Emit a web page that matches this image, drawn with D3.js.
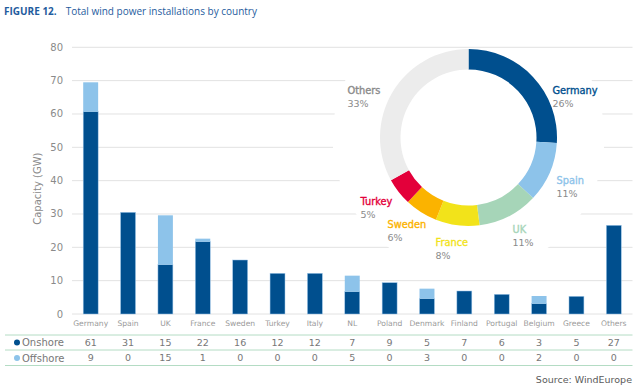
<!DOCTYPE html>
<html>
<head>
<meta charset="utf-8">
<script src="https://cdn.jsdelivr.net/npm/d3@7"></script>
<style>
  body { margin: 0; background: #fff; }
  svg { display: block; }
</style>
</head>
<body>
<svg id="chart" width="644" height="389"></svg>
<script>
// bar chart data (GW)
const countries = ['Germany', 'Spain', 'UK', 'France', 'Sweden', 'Turkey', 'Italy', 'NL',
  'Poland', 'Denmark', 'Finland', 'Portugal', 'Belgium', 'Greece', 'Others'];
const onshore = [60.7, 30.5, 14.8, 21.7, 16.2, 12.2, 12.2, 6.7, 9.4, 4.6, 6.9, 5.9, 3.1, 5.3, 26.6];
const offshore = [8.8, 0, 14.8, 0.9, 0, 0, 0, 4.8, 0, 3.0, 0, 0, 2.3, 0, 0];
const onshoreRow = [61, 31, 15, 22, 16, 12, 12, 7, 9, 5, 7, 6, 3, 5, 27];
const offshoreRow = [9, 0, 15, 1, 0, 0, 0, 5, 0, 3, 0, 0, 2, 0, 0];
const yTicks = [0, 10, 20, 30, 40, 50, 60, 70, 80];

// donut data (% share)
const shareNames = ['Germany', 'Spain', 'UK', 'France', 'Sweden', 'Turkey', 'Others'];
const shareValues = [26, 11, 11, 8, 6, 5, 33];
const shareColors = ['#004f8e', '#8dc3ea', '#a6d5b8', '#f2e31a', '#fbb300', '#e3003a', '#ececec'];
// label placement around the donut (offset from centre, px)
const shareLabelPos = [[84, -47], [88, 43], [44, 92], [-33, 105], [-81, 87], [-108, 64], [-121, -47]];

const colOn = '#004f8e';
const colOff = '#8dc3ea';
const grey = '#8a8a8a';
const font = '"DejaVu Sans", sans-serif';

const svg = d3.select('#chart');
const margin = { left: 72, right: 11.5, top: 47.3, bottom: 75 };
const W = 644, H = 389;

const x = d3.scaleBand()
  .domain(countries)
  .range([margin.left, W - margin.right])
  .paddingInner(0.6)
  .paddingOuter(0.3);

const y = d3.scaleLinear()
  .domain([0, 80])
  .range([314, margin.top]);

// title
const title = svg.append('text')
  .attr('x', 4)
  .attr('y', 15)
  .attr('font-family', '"Open Sans", sans-serif')
  .attr('font-size', 10)
  .attr('fill', '#1f5c9e');
title.append('tspan').attr('font-weight', 'bold').text('FIGURE 12.');
title.append('tspan').attr('dx', 9).text('Total wind power installations by country');

// gridlines
const grid = svg.append('g');
grid.selectAll('line')
  .data(yTicks)
  .join('line')
  .attr('x1', margin.left)
  .attr('x2', W - margin.right)
  .attr('y1', (d) => y(d))
  .attr('y2', (d) => y(d))
  .attr('stroke', '#e2e2e2')
  .attr('stroke-width', 1);

// y axis labels
svg.append('g')
  .selectAll('text')
  .data(yTicks)
  .join('text')
  .attr('x', 63)
  .attr('y', (d) => y(d))
  .attr('dy', '0.35em')
  .attr('text-anchor', 'end')
  .attr('font-family', font)
  .attr('font-size', 10)
  .attr('fill', grey)
  .text((d) => d);

svg.append('text')
  .attr('transform', `translate(41,${(y(0) + y(80)) / 2 + 8}) rotate(-90)`)
  .attr('text-anchor', 'middle')
  .attr('font-family', font)
  .attr('font-size', 10)
  .attr('fill', grey)
  .text('Capacity (GW)');

// white disc behind the donut, cutting the gridlines
const cx = 468.5, cy = 137.5;
svg.append('clipPath').attr('id', 'discClip')
  .append('rect').attr('x', 0).attr('y', y(80) + 1.5).attr('width', W).attr('height', H);
svg.append('circle')
  .attr('cx', cx).attr('cy', cy).attr('r', 136)
  .attr('fill', '#fff')
  .attr('clip-path', 'url(#discClip)');

// stacked bars
const bars = svg.append('g');
bars.selectAll('rect.on')
  .data(countries)
  .join('rect')
  .attr('class', 'on')
  .attr('x', (d) => x(d))
  .attr('width', x.bandwidth())
  .attr('y', (d, i) => y(onshore[i]))
  .attr('height', (d, i) => y(0) - y(onshore[i]))
  .attr('fill', colOn)
  .attr('stroke', '#9fc7ea')
  .attr('stroke-width', 0.5);
bars.selectAll('rect.off')
  .data(countries.filter((d, i) => offshore[i] > 0))
  .join('rect')
  .attr('class', 'off')
  .attr('x', (d) => x(d))
  .attr('width', x.bandwidth())
  .attr('y', (d) => { const i = countries.indexOf(d); return y(onshore[i] + offshore[i]); })
  .attr('height', (d) => { const i = countries.indexOf(d); return y(0) - y(offshore[i]); })
  .attr('fill', colOff);

// category labels
svg.append('g')
  .selectAll('text')
  .data(countries)
  .join('text')
  .attr('x', (d) => x(d) + x.bandwidth() / 2)
  .attr('y', 326)
  .attr('text-anchor', 'middle')
  .attr('font-family', font)
  .attr('font-size', 7.6)
  .attr('fill', '#9a9a9a')
  .text((d) => d);

// data table
const rows = [
  { name: 'Onshore', color: colOn, values: onshoreRow, y: 342.5 },
  { name: 'Offshore', color: colOff, values: offshoreRow, y: 358 },
];
svg.append('g')
  .selectAll('line')
  .data([335, 350, 365.5])
  .join('line')
  .attr('x1', 5).attr('x2', W - margin.right)
  .attr('y1', (d) => d).attr('y2', (d) => d)
  .attr('stroke', '#b4dcc4')
  .attr('stroke-width', 1);

const rowG = svg.append('g')
  .selectAll('g')
  .data(rows)
  .join('g');
rowG.append('circle')
  .attr('cx', 17).attr('cy', (d) => d.y).attr('r', 3)
  .attr('fill', (d) => d.color);
rowG.append('text')
  .attr('x', 22).attr('y', (d) => d.y).attr('dy', '0.35em')
  .attr('font-family', font).attr('font-size', 10).attr('fill', '#777')
  .text((d) => d.name);
rowG.selectAll('text.v')
  .data((d) => d.values.map((v, i) => ({ v, c: countries[i], y: d.y })))
  .join('text')
  .attr('class', 'v')
  .attr('x', (d) => x(d.c) + x.bandwidth() / 2)
  .attr('y', (d) => d.y).attr('dy', '0.35em')
  .attr('text-anchor', 'middle')
  .attr('font-family', font).attr('font-size', 9.5).attr('fill', '#777')
  .text((d) => d.v);

// source
svg.append('text')
  .attr('x', 632).attr('y', 382.5)
  .attr('text-anchor', 'end')
  .attr('font-family', font).attr('font-size', 9.5).attr('fill', '#5a5a5a')
  .text('Source: WindEurope');

// donut
const pie = d3.pie().sort(null).value((d) => d);
const arc = d3.arc().innerRadius(68).outerRadius(88.5);
const donut = svg.append('g').attr('transform', `translate(${cx},${cy})`);
donut.selectAll('path')
  .data(pie(shareValues))
  .join('path')
  .attr('d', arc)
  .attr('fill', (d, i) => shareColors[i]);

const labels = donut.selectAll('g.lbl')
  .data(shareNames)
  .join('g')
  .attr('class', 'lbl')
  .attr('transform', (d, i) => `translate(${shareLabelPos[i][0]},${shareLabelPos[i][1]})`);
labels.append('text')
  .attr('dy', '0.35em')
  .attr('font-family', font).attr('font-size', 9.8)
  .attr('fill', (d, i) => (d === 'Others' ? '#8a8a8a' : shareColors[i]))
  .attr('stroke', (d, i) => (d === 'Others' ? '#8a8a8a' : shareColors[i]))
  .attr('stroke-width', 0.35)
  .text((d) => d);
labels.append('text')
  .attr('y', 12.7).attr('dy', '0.35em')
  .attr('font-family', font).attr('font-size', 9.5)
  .attr('fill', grey)
  .text((d, i) => `${shareValues[i]}%`);
</script>
</body>
</html>
